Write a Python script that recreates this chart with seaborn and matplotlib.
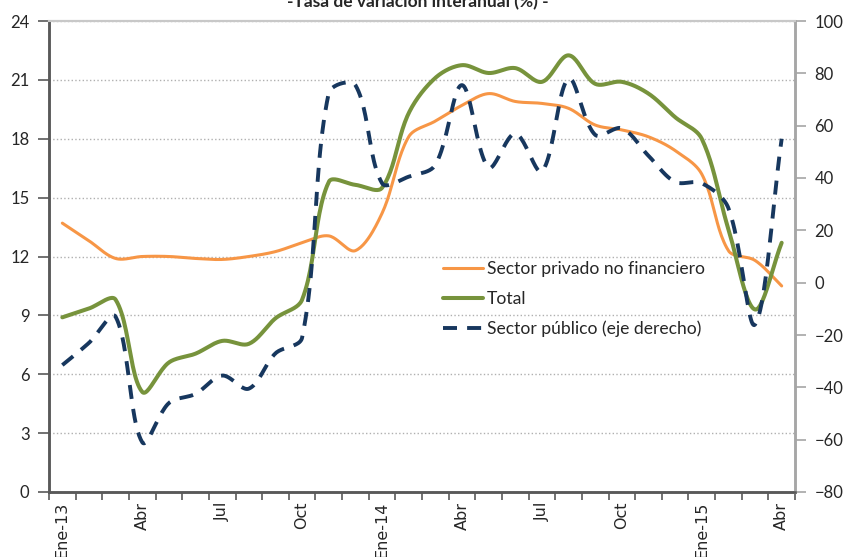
import numpy as np
import pandas as pd
import seaborn as sns
import matplotlib.pyplot as plt
from matplotlib.lines import Line2D

# monthly data, Ene-13 .. Abr-15
months = ['Ene-13', 'Feb', 'Mar', 'Abr', 'May', 'Jun', 'Jul', 'Ago', 'Sep', 'Oct', 'Nov', 'Dic',
          'Ene-14', 'Feb', 'Mar', 'Abr', 'May', 'Jun', 'Jul', 'Ago', 'Sep', 'Oct', 'Nov', 'Dic',
          'Ene-15', 'Feb', 'Mar', 'Abr']
privado = [13.7, 12.8, 11.9, 12.0, 12.0, 11.9, 11.85, 12.0, 12.25, 12.7, 13.05, 12.3,
           14.2, 18.1, 18.9, 19.7, 20.3, 19.9, 19.8, 19.55, 18.7, 18.45, 18.1, 17.4,
           16.2, 12.3, 11.8, 10.5]
total = [8.9, 9.35, 9.8, 5.1, 6.6, 7.05, 7.7, 7.55, 8.85, 9.8, 15.8, 15.65,
         15.5, 19.3, 21.1, 21.75, 21.35, 21.6, 20.9, 22.25, 20.8, 20.9, 20.3, 19.1,
         18.0, 13.4, 9.3, 12.7]
publico = [-31.5, -23.0, -13.0, -61.0, -46.0, -42.5, -35.5, -40.5, -27.0, -21.0, 72.5, 75.5,
           38.0, 40.5, 45.0, 75.5, 44.0, 57.0, 42.5, 78.0, 56.5, 59.0, 48.5, 38.5,
           38.0, 28.5, -16.0, 55.0]
tick_pos = list(range(0, 28, 3))
tick_lab = ['Ene-13', 'Abr', 'Jul', 'Oct', 'Ene-14', 'Abr', 'Jul', 'Oct', 'Ene-15', 'Abr']

c_priv = '#F79646'
c_tot = '#77933C'
c_pub = '#17375E'


def smooth(vals, ypx, xpx=26.63, n=24):
    # excel-like bezier smoothing (chord weighted), only for drawing
    y = np.asarray(vals, dtype=float)
    x = np.arange(len(y), dtype=float)
    S = np.column_stack([x * xpx, y * ypx])
    S = np.vstack([S[0], S, S[-1]])
    d = np.hypot(*np.diff(S, axis=0).T)
    xs, ys = [], []
    t = np.linspace(0, 1, n, endpoint=False)[:, None]
    for i in range(1, len(S) - 2):
        p0, p1, p2, p3 = S[i - 1], S[i], S[i + 1], S[i + 2]
        da, db, dc = d[i - 1], d[i], d[i + 1]
        fa = db / (da + db) / 3 if da + db > 0 else 0
        fb = db / (db + dc) / 3 if db + dc > 0 else 0
        c1 = p1 + (p2 - p0) * fa
        c2 = p2 - (p3 - p1) * fb
        b = ((1 - t) ** 3) * p1 + 3 * ((1 - t) ** 2) * t * c1 + 3 * (1 - t) * t ** 2 * c2 + t ** 3 * p2
        xs.extend(b[:, 0] / xpx); ys.extend(b[:, 1] / ypx)
    xs.append(S[-2][0] / xpx); ys.append(S[-2][1] / ypx)
    return pd.DataFrame({'x': xs, 'v': ys})


sns.set_theme(style='white')
plt.rcParams['font.family'] = ['Lato', 'DejaVu Sans']

fig = plt.figure(figsize=(8.43, 5.57), dpi=100)
ax = fig.add_axes([49 / 843, 1 - 492 / 557, 746 / 843, 471 / 557])
ax2 = ax.twinx()

left_px = 471 / 24
right_px = 471 / 180
sns.lineplot(data=smooth(privado, left_px), x='x', y='v', ax=ax, color=c_priv, lw=2.2, legend=False)
sns.lineplot(data=smooth(total, left_px), x='x', y='v', ax=ax, color=c_tot, lw=2.9, legend=False)
sns.lineplot(data=smooth(publico, right_px), x='x', y='v', ax=ax2, color=c_pub, lw=2.8, legend=False)
ax2.lines[0].set_dashes((3.6, 2.6))

ax.set_xlim(-0.5, 27.5)
ax.set_ylim(0, 24)
ax.set_yticks(range(0, 25, 3))
ax2.set_ylim(-80, 100)
ax2.set_yticks(range(-80, 101, 20))
ax.set_xticks(tick_pos)
ax.set_xticklabels(tick_lab, rotation=90, family='DejaVu Sans', fontsize=11.5, va='top')
ax.set_xticks(np.arange(-0.5, 28, 1), minor=True)
ax.tick_params(axis='x', which='major', length=0, pad=7)
ax.tick_params(axis='x', which='minor', length=6, width=1.2, color='#595959', direction='out', bottom=True)
ax.tick_params(axis='y', length=8, width=1.2, color='#595959', labelsize=12, pad=6, left=True)
ax2.tick_params(axis='y', length=8, width=1.2, color='#A6A6A6', labelsize=12, pad=6, right=True)
ax.set_xlabel('')
ax.set_ylabel('')
ax2.set_ylabel('')

ax.yaxis.grid(True, linestyle=':', color='#B0B0B0', lw=1.0)
ax.set_axisbelow(True)

for a in (ax, ax2):
    a.spines['left'].set_color('#595959')
    a.spines['left'].set_linewidth(1.8)
    a.spines['bottom'].set_color('#595959')
    a.spines['bottom'].set_linewidth(1.8)
    a.spines['right'].set_color('#A6A6A6')
    a.spines['right'].set_linewidth(1.8)
    a.spines['top'].set_color('#C8C8C8')
    a.spines['top'].set_linewidth(1.5)

handles = [Line2D([], [], color=c_priv, lw=2.2),
           Line2D([], [], color=c_tot, lw=2.9),
           Line2D([], [], color=c_pub, lw=2.8, dashes=(3.6, 2.6))]
labels = ['Sector privado no financiero', 'Total', 'Sector público (eje derecho)']
ax2.legend(handles, labels, loc='upper left', bbox_to_anchor=(436 / 843, 1 - 254 / 557),
           bbox_transform=fig.transFigure, frameon=False, fontsize=12.6,
           handlelength=2.3, handletextpad=0.2, labelspacing=0.78, borderaxespad=0)

fig.text(418 / 843, 1 - 7 / 557, '-Tasa de variación interanual (%) -', ha='center', va='baseline',
         fontsize=12.5, fontweight='bold')

fig.savefig('out.png', dpi=100)
